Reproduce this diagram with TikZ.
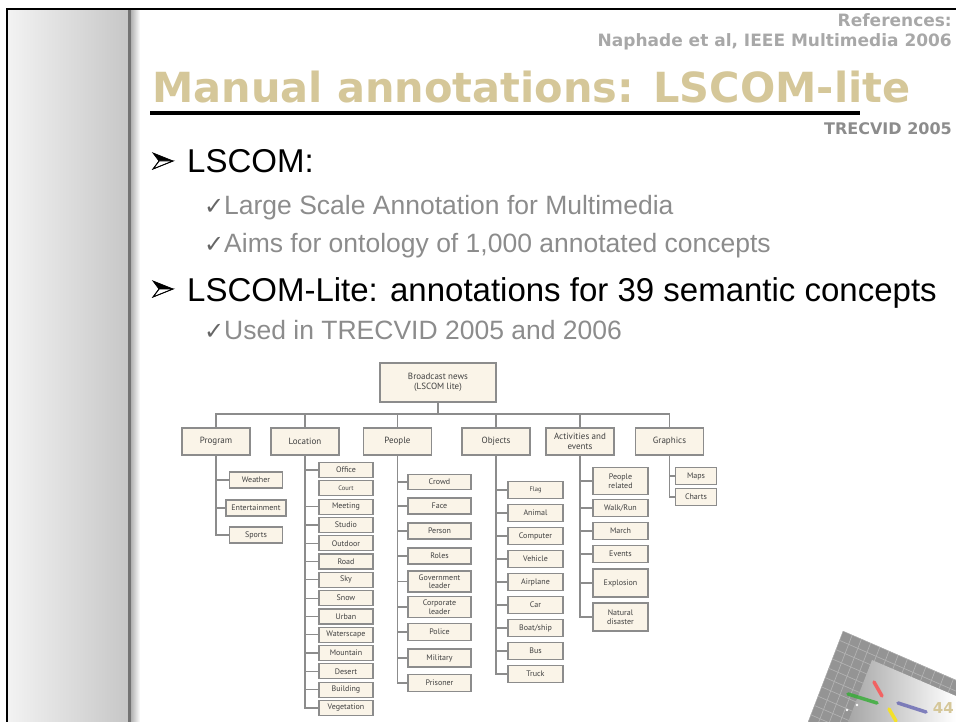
\documentclass[tikz,border=0pt]{standalone}
\usepackage{fontspec}
\setmainfont{Liberation Sans}
\newfontfamily\headfont{DejaVu Sans}
\newfontfamily\symfont{DejaVu Sans}
\newfontfamily\boxfont{PT Sans}

\definecolor{titletan}{RGB}{213,199,153}
\definecolor{refgray}{RGB}{168,168,168}
\definecolor{bodygray}{RGB}{140,140,140}
\definecolor{boxfill}{RGB}{250,244,232}
\definecolor{boxline}{RGB}{140,140,140}

\newcommand\smallconcept[1]{{\fontsize{6.5}{7}\selectfont #1}}

\begin{document}
\begin{tikzpicture}
[x=1pt, y=-1pt,
 heading/.style = {inner sep=0pt, font=\headfont\bfseries\fontsize{17}{17}\selectfont, text=refgray},
 point/.style = {inner sep=0pt, anchor=base west, font=\fontsize{33}{33}\selectfont},
 subpoint/.style = {inner sep=0pt, anchor=base west, text=bodygray, font=\fontsize{26.5}{26.5}\selectfont},
 tick/.style = {inner sep=0pt, anchor=base west, text=black!60, font=\symfont\fontsize{24}{24}\selectfont},
 category/.style = {rectangle, draw=boxline, fill=boxfill, line width=1.2pt, minimum width=68pt,
                    minimum height=27pt, inner sep=1pt, align=center, text=black!75,
                    font=\boxfont\fontsize{9}{9.5}\selectfont},
 concept/.style = {category, minimum width=#1, minimum height=16pt, font=\boxfont\fontsize{8}{8.5}\selectfont},
 concept/.default = 54pt,
 link/.style = {draw=boxline, line width=1.2pt},
 pics/arrowbullet/.style = {code={
   \fill[black] (0,-8) -- (20,0) -- (6,0) -- cycle;
   \filldraw[fill=white, draw=black, line width=0.8pt] (6,0) -- (20,0) -- (0,8) -- cycle;
   \draw[line width=0.8pt, line join=miter] (0,-8) -- (20,0) -- (0,8) -- (6,0) -- cycle;}}]
\useasboundingbox (0,0) rectangle (956,722);

% side panel and frame
\shade[left color=black!5, right color=black!22] (8,10) rectangle (128,722);
\fill[black!55] (128,10) rectangle (131,722);
\shade[left color=black!30, right color=white] (131,10) rectangle (140,722);
\draw[line width=2pt] (7,722) -- (7,9) -- (956,9);

% header
\node[heading, anchor=base east] (refs) at (952,27) {References:};
\node[heading, anchor=base east] (paper) at (952,47) {Naphade et al, IEEE Multimedia 2006};
\node[inner sep=0pt, anchor=base west, text=titletan, font=\headfont\bfseries\fontsize{41.5}{41.5}\selectfont]
  (title) at (152,103) {Manual annotations: LSCOM-lite};
\fill (150,111) rectangle (860,115);
\node[heading, anchor=base east, text=bodygray, font=\headfont\bfseries\fontsize{16}{16}\selectfont]
  (trec) at (952,135) {TRECVID 2005};

% bullets
\pic at (153,161) {arrowbullet};
\node[point] (b1) at (187,173) {LSCOM:};
\node[tick] at (204,215) {✓};
\node[subpoint] (b11) at (224,215) {Large Scale Annotation for Multimedia};
\node[tick] at (204,253) {✓};
\node[subpoint] (b12) at (224,253) {Aims for ontology of 1,000 annotated concepts};
\pic at (153,289) {arrowbullet};
\node[point] (b2) at (187,301) {LSCOM-Lite: annotations for 39 semantic concepts};
\node[tick] at (204,339) {✓};
\node[subpoint] (b21) at (224,339) {Used in TRECVID 2005 and 2006};

% concept tree
\coordinate (bus) at (0,414);
\node[category, minimum width=116pt, minimum height=39pt] (root) at (438,382.5) {Broadcast news\\(LSCOM lite)};
\node[category] (prog) at (216,441.5) {Program};
\node[category] (loc) at (305,441.5) {Location};
\node[category] (ppl) at (397.5,441.5) {People};
\node[category] (obj) at (496,441.5) {Objects};
\node[category] (act) at (580,441.5) {Activities and\\events};
\node[category] (gfx) at (669.5,441.5) {Graphics};

\draw[link] (root) -- (root |- bus);
\draw[link] (prog) -- (prog |- bus) -- (gfx |- bus) -- (gfx);
\foreach \n in {loc,ppl,obj,act}
  \draw[link] (\n) -- (\n |- bus);

\foreach \txt/\y/\w [count=\i] in {Weather/480/53pt, Entertainment/508/60pt, Sports/535/53pt}
  \node[concept=\w] (prog-\i) at (256,\y) {\txt};
\foreach \txt [count=\i] in {Office, \smallconcept{Court}, Meeting, Studio, Outdoor, Road, Sky, Snow,
                             Urban, Waterscape, Mountain, Desert, Building, Vegetation}
  \node[concept, minimum height=15pt] (loc-\i) at (346,{470+18.3*(\i-1)}) {\txt};
\foreach \txt/\y/\h [count=\i] in {Crowd/482/15, Face/506/16, Person/531/16, Roles/556/16,
                                   {Government\\leader}/581.5/21, {Corporate\\leader}/607/21,
                                   Police/632/17, Military/658/18, Prisoner/683/17}
  \node[concept=63pt, minimum height=\h pt] (ppl-\i) at (439.5,\y) {\txt};
\foreach \txt [count=\i] in {\smallconcept{Flag}, Animal, Computer, Vehicle, Airplane, Car, Boat/ship, Bus, Truck}
  \node[concept=55pt, minimum height=17pt] (obj-\i) at (535.5,{490+23*(\i-1)}) {\txt};
\foreach \txt/\y/\h [count=\i] in {{People\\related}/481/27, {Walk/Run}/508/17, March/531/17,
                                   Events/554/17, Explosion/583/28, {Natural\\disaster}/617/28}
  \node[concept=55pt, minimum height=\h pt] (act-\i) at (620.5,\y) {\txt};
\foreach \txt/\y [count=\i] in {Maps/476, Charts/497}
  \node[concept=41pt, minimum height=17pt] (gfx-\i) at (696,\y) {\txt};

\foreach \i in {1,...,3} \draw[link] (prog) |- (prog-\i.west);
\foreach \i in {1,3,4,5,6,7,8,9,10,11,12,13,14} \draw[link] (loc) |- (loc-\i.west);
\foreach \i in {1,...,9} \draw[link] (ppl) |- (ppl-\i.west);
\foreach \i in {1,...,9} \draw[link] (obj) |- (obj-\i.west);
\foreach \i in {1,...,6} \draw[link] (act) |- (act-\i.west);
\foreach \i in {1,2} \draw[link] (gfx) |- (gfx-\i.west);

% corner logo
\begin{scope}
  \clip (843,631) -- (808,722) -- (956,722) -- (956,680) -- cycle;
  \fill[black!42] (800,620) rectangle (956,722);
  \foreach \k in {0,...,12} {
    \draw[white!70!black, line width=0.7pt] (843-3.6*\k,631+9.3*\k) -- ++(140,61);
    \draw[white!70!black, line width=0.7pt] (843+9.2*\k,631+4*\k) -- ++(-40,104);
  }
  \shade[left color=black!35, right color=white] (872,660) -- (848,722) -- (956,722) -- (956,696) -- cycle;
\end{scope}
\begin{scope}[line width=3.5pt, line cap=round, opacity=0.8]
  \draw[red!70] (874,682) -- (882,696);
  \draw[green!60!black!80] (848,694) -- (877,703);
  \draw[blue!50!black!60] (898,703) -- (926,712);
  \draw[yellow!90!orange] (889,709) -- (896,721);
\end{scope}
\fill[white] (847,710) circle (1.3) (857,705) circle (1.3);
\node[inner sep=0pt, anchor=base east, text=titletan, font=\headfont\bfseries\fontsize{15}{15}\selectfont]
  (page) at (954,713) {44};
\end{tikzpicture}
\end{document}
